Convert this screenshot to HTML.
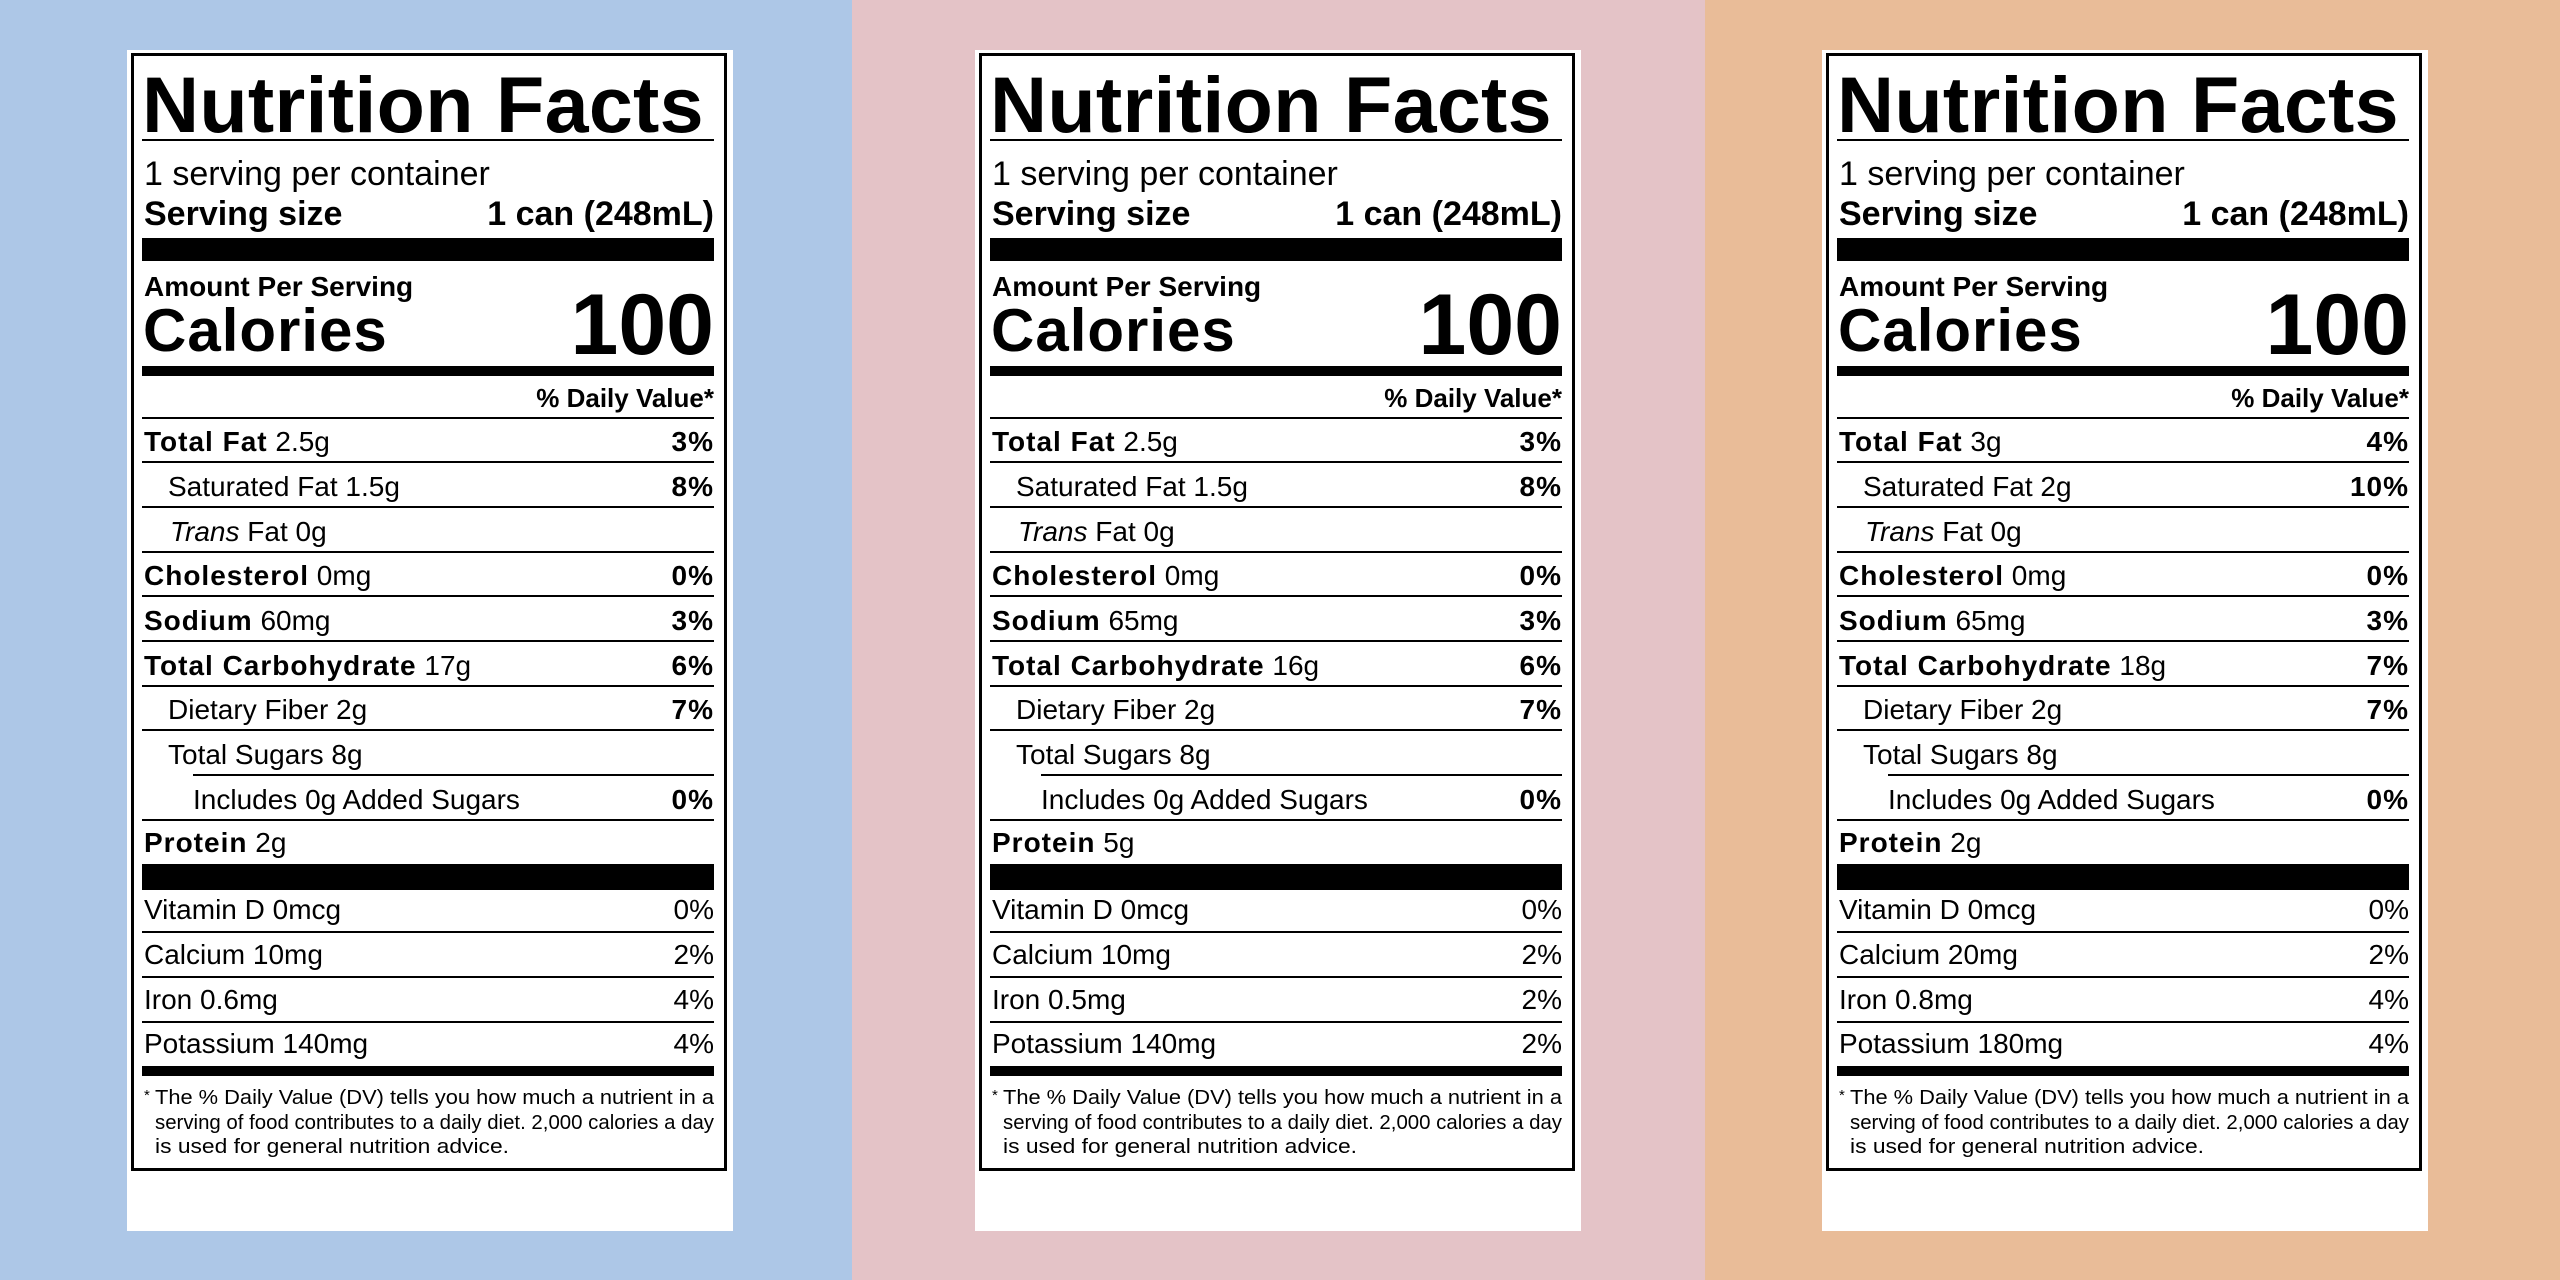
<!DOCTYPE html>
<html><head><meta charset="utf-8"><style>
*{margin:0;padding:0;box-sizing:border-box}
body{width:2560px;height:1280px;position:relative;overflow:hidden;font-family:"Liberation Sans",Arial,sans-serif;color:#000}
.bg{position:absolute;top:0;height:1280px}
.p{position:absolute;top:0;width:852px;height:1280px}
.w{position:absolute;left:127px;top:50px;width:606px;height:1181px;background:#fff}
.box{position:absolute;left:131px;top:53px;width:596px;height:1118px;border:3px solid #000}
.ln{position:absolute;left:142px;width:572px;height:2px;background:#000}
.bar{position:absolute;left:142px;width:572px;background:#000}
.t{position:absolute;line-height:1;white-space:nowrap}
.r{position:absolute;left:144px;width:570px;font-size:28px;line-height:1;display:flex;justify-content:space-between;white-space:nowrap}
b{font-weight:bold;letter-spacing:1px}
.ttl{left:142px;top:65px;font-size:79px;font-weight:bold;letter-spacing:0.3px}
</style></head><body>
<div class="bg" style="left:0;width:852px;background:#adc7e7"></div>
<div class="bg" style="left:852px;width:853px;background:#e4c3c7"></div>
<div class="bg" style="left:1705px;width:855px;background:#e9bc98"></div>

<!-- PANEL 1 -->
<div class="p" style="left:0">
<div class="w"></div><div class="box"></div>
<div class="t ttl">Nutrition Facts</div>
<div class="ln" style="top:139px"></div>
<div class="t" style="left:144px;top:157px;font-size:34px">1 serving per container</div>
<div class="r" style="top:197px;font-size:34px;font-weight:bold"><span>Serving size</span><span>1 can (248mL)</span></div>
<div class="bar" style="top:238px;height:23px"></div>
<div class="t" style="left:144px;top:273px;font-size:28px;font-weight:bold">Amount Per Serving</div>
<div class="t" style="left:143px;top:301px;font-size:60px;font-weight:bold;letter-spacing:1px">Calories</div>
<div class="t" style="right:138px;top:282px;font-size:86px;font-weight:bold">100</div>
<div class="bar" style="top:366px;height:10px"></div>
<div class="t" style="right:138px;top:385px;font-size:26px;font-weight:bold">% Daily Value*</div>
<div class="ln" style="top:417px"></div>
<div class="r" style="top:428px"><span><b>Total Fat</b> 2.5g</span><b>3%</b></div>
<div class="ln" style="top:461px"></div>
<div class="r" style="top:473px;padding-left:24px"><span>Saturated Fat 1.5g</span><b>8%</b></div>
<div class="ln" style="top:506px"></div>
<div class="r" style="top:518px;padding-left:26px"><span><i>Trans</i> Fat 0g</span></div>
<div class="ln" style="top:551px"></div>
<div class="r" style="top:562px"><span><b>Cholesterol</b> 0mg</span><b>0%</b></div>
<div class="ln" style="top:595px"></div>
<div class="r" style="top:607px"><span><b>Sodium</b> 60mg</span><b>3%</b></div>
<div class="ln" style="top:640px"></div>
<div class="r" style="top:652px"><span><b>Total Carbohydrate</b> 17g</span><b>6%</b></div>
<div class="ln" style="top:685px"></div>
<div class="r" style="top:696px;padding-left:24px"><span>Dietary Fiber 2g</span><b>7%</b></div>
<div class="ln" style="top:729px"></div>
<div class="r" style="top:741px;padding-left:24px"><span>Total Sugars 8g</span></div>
<div class="ln" style="top:774px;left:193px;width:521px"></div>
<div class="r" style="top:786px;padding-left:49px"><span>Includes 0g Added Sugars</span><b>0%</b></div>
<div class="ln" style="top:819px"></div>
<div class="r" style="top:829px"><span><b>Protein</b> 2g</span></div>
<div class="bar" style="top:864px;height:26px"></div>
<div class="r" style="top:896px"><span>Vitamin D 0mcg</span><span>0%</span></div>
<div class="ln" style="top:931px"></div>
<div class="r" style="top:941px"><span>Calcium 10mg</span><span>2%</span></div>
<div class="ln" style="top:976px"></div>
<div class="r" style="top:986px"><span>Iron 0.6mg</span><span>4%</span></div>
<div class="ln" style="top:1021px"></div>
<div class="r" style="top:1030px"><span>Potassium 140mg</span><span>4%</span></div>
<div class="bar" style="top:1066px;height:10px"></div>
<svg style="position:absolute;left:0;top:0" width="852" height="1280"><g font-family="Liberation Sans, Arial, sans-serif" font-size="20">
<text x="144" y="1100" font-size="15">*</text>
<text x="155" y="1104" textLength="559" lengthAdjust="spacingAndGlyphs">The % Daily Value (DV) tells you how much a nutrient in a</text>
<text x="155" y="1129" textLength="559" lengthAdjust="spacingAndGlyphs">serving of food contributes to a daily diet. 2,000 calories a day</text>
<text x="155" y="1153" textLength="354" lengthAdjust="spacingAndGlyphs">is used for general nutrition advice.</text></g></svg>
</div>

<!-- PANEL 2 -->
<div class="p" style="left:848px">
<div class="w"></div><div class="box"></div>
<div class="t ttl">Nutrition Facts</div>
<div class="ln" style="top:139px"></div>
<div class="t" style="left:144px;top:157px;font-size:34px">1 serving per container</div>
<div class="r" style="top:197px;font-size:34px;font-weight:bold"><span>Serving size</span><span>1 can (248mL)</span></div>
<div class="bar" style="top:238px;height:23px"></div>
<div class="t" style="left:144px;top:273px;font-size:28px;font-weight:bold">Amount Per Serving</div>
<div class="t" style="left:143px;top:301px;font-size:60px;font-weight:bold;letter-spacing:1px">Calories</div>
<div class="t" style="right:138px;top:282px;font-size:86px;font-weight:bold">100</div>
<div class="bar" style="top:366px;height:10px"></div>
<div class="t" style="right:138px;top:385px;font-size:26px;font-weight:bold">% Daily Value*</div>
<div class="ln" style="top:417px"></div>
<div class="r" style="top:428px"><span><b>Total Fat</b> 2.5g</span><b>3%</b></div>
<div class="ln" style="top:461px"></div>
<div class="r" style="top:473px;padding-left:24px"><span>Saturated Fat 1.5g</span><b>8%</b></div>
<div class="ln" style="top:506px"></div>
<div class="r" style="top:518px;padding-left:26px"><span><i>Trans</i> Fat 0g</span></div>
<div class="ln" style="top:551px"></div>
<div class="r" style="top:562px"><span><b>Cholesterol</b> 0mg</span><b>0%</b></div>
<div class="ln" style="top:595px"></div>
<div class="r" style="top:607px"><span><b>Sodium</b> 65mg</span><b>3%</b></div>
<div class="ln" style="top:640px"></div>
<div class="r" style="top:652px"><span><b>Total Carbohydrate</b> 16g</span><b>6%</b></div>
<div class="ln" style="top:685px"></div>
<div class="r" style="top:696px;padding-left:24px"><span>Dietary Fiber 2g</span><b>7%</b></div>
<div class="ln" style="top:729px"></div>
<div class="r" style="top:741px;padding-left:24px"><span>Total Sugars 8g</span></div>
<div class="ln" style="top:774px;left:193px;width:521px"></div>
<div class="r" style="top:786px;padding-left:49px"><span>Includes 0g Added Sugars</span><b>0%</b></div>
<div class="ln" style="top:819px"></div>
<div class="r" style="top:829px"><span><b>Protein</b> 5g</span></div>
<div class="bar" style="top:864px;height:26px"></div>
<div class="r" style="top:896px"><span>Vitamin D 0mcg</span><span>0%</span></div>
<div class="ln" style="top:931px"></div>
<div class="r" style="top:941px"><span>Calcium 10mg</span><span>2%</span></div>
<div class="ln" style="top:976px"></div>
<div class="r" style="top:986px"><span>Iron 0.5mg</span><span>2%</span></div>
<div class="ln" style="top:1021px"></div>
<div class="r" style="top:1030px"><span>Potassium 140mg</span><span>2%</span></div>
<div class="bar" style="top:1066px;height:10px"></div>
<svg style="position:absolute;left:0;top:0" width="852" height="1280"><g font-family="Liberation Sans, Arial, sans-serif" font-size="20">
<text x="144" y="1100" font-size="15">*</text>
<text x="155" y="1104" textLength="559" lengthAdjust="spacingAndGlyphs">The % Daily Value (DV) tells you how much a nutrient in a</text>
<text x="155" y="1129" textLength="559" lengthAdjust="spacingAndGlyphs">serving of food contributes to a daily diet. 2,000 calories a day</text>
<text x="155" y="1153" textLength="354" lengthAdjust="spacingAndGlyphs">is used for general nutrition advice.</text></g></svg>
</div>

<!-- PANEL 3 -->
<div class="p" style="left:1695px">
<div class="w"></div><div class="box"></div>
<div class="t ttl">Nutrition Facts</div>
<div class="ln" style="top:139px"></div>
<div class="t" style="left:144px;top:157px;font-size:34px">1 serving per container</div>
<div class="r" style="top:197px;font-size:34px;font-weight:bold"><span>Serving size</span><span>1 can (248mL)</span></div>
<div class="bar" style="top:238px;height:23px"></div>
<div class="t" style="left:144px;top:273px;font-size:28px;font-weight:bold">Amount Per Serving</div>
<div class="t" style="left:143px;top:301px;font-size:60px;font-weight:bold;letter-spacing:1px">Calories</div>
<div class="t" style="right:138px;top:282px;font-size:86px;font-weight:bold">100</div>
<div class="bar" style="top:366px;height:10px"></div>
<div class="t" style="right:138px;top:385px;font-size:26px;font-weight:bold">% Daily Value*</div>
<div class="ln" style="top:417px"></div>
<div class="r" style="top:428px"><span><b>Total Fat</b> 3g</span><b>4%</b></div>
<div class="ln" style="top:461px"></div>
<div class="r" style="top:473px;padding-left:24px"><span>Saturated Fat 2g</span><b>10%</b></div>
<div class="ln" style="top:506px"></div>
<div class="r" style="top:518px;padding-left:26px"><span><i>Trans</i> Fat 0g</span></div>
<div class="ln" style="top:551px"></div>
<div class="r" style="top:562px"><span><b>Cholesterol</b> 0mg</span><b>0%</b></div>
<div class="ln" style="top:595px"></div>
<div class="r" style="top:607px"><span><b>Sodium</b> 65mg</span><b>3%</b></div>
<div class="ln" style="top:640px"></div>
<div class="r" style="top:652px"><span><b>Total Carbohydrate</b> 18g</span><b>7%</b></div>
<div class="ln" style="top:685px"></div>
<div class="r" style="top:696px;padding-left:24px"><span>Dietary Fiber 2g</span><b>7%</b></div>
<div class="ln" style="top:729px"></div>
<div class="r" style="top:741px;padding-left:24px"><span>Total Sugars 8g</span></div>
<div class="ln" style="top:774px;left:193px;width:521px"></div>
<div class="r" style="top:786px;padding-left:49px"><span>Includes 0g Added Sugars</span><b>0%</b></div>
<div class="ln" style="top:819px"></div>
<div class="r" style="top:829px"><span><b>Protein</b> 2g</span></div>
<div class="bar" style="top:864px;height:26px"></div>
<div class="r" style="top:896px"><span>Vitamin D 0mcg</span><span>0%</span></div>
<div class="ln" style="top:931px"></div>
<div class="r" style="top:941px"><span>Calcium 20mg</span><span>2%</span></div>
<div class="ln" style="top:976px"></div>
<div class="r" style="top:986px"><span>Iron 0.8mg</span><span>4%</span></div>
<div class="ln" style="top:1021px"></div>
<div class="r" style="top:1030px"><span>Potassium 180mg</span><span>4%</span></div>
<div class="bar" style="top:1066px;height:10px"></div>
<svg style="position:absolute;left:0;top:0" width="852" height="1280"><g font-family="Liberation Sans, Arial, sans-serif" font-size="20">
<text x="144" y="1100" font-size="15">*</text>
<text x="155" y="1104" textLength="559" lengthAdjust="spacingAndGlyphs">The % Daily Value (DV) tells you how much a nutrient in a</text>
<text x="155" y="1129" textLength="559" lengthAdjust="spacingAndGlyphs">serving of food contributes to a daily diet. 2,000 calories a day</text>
<text x="155" y="1153" textLength="354" lengthAdjust="spacingAndGlyphs">is used for general nutrition advice.</text></g></svg>
</div>
</body></html>
